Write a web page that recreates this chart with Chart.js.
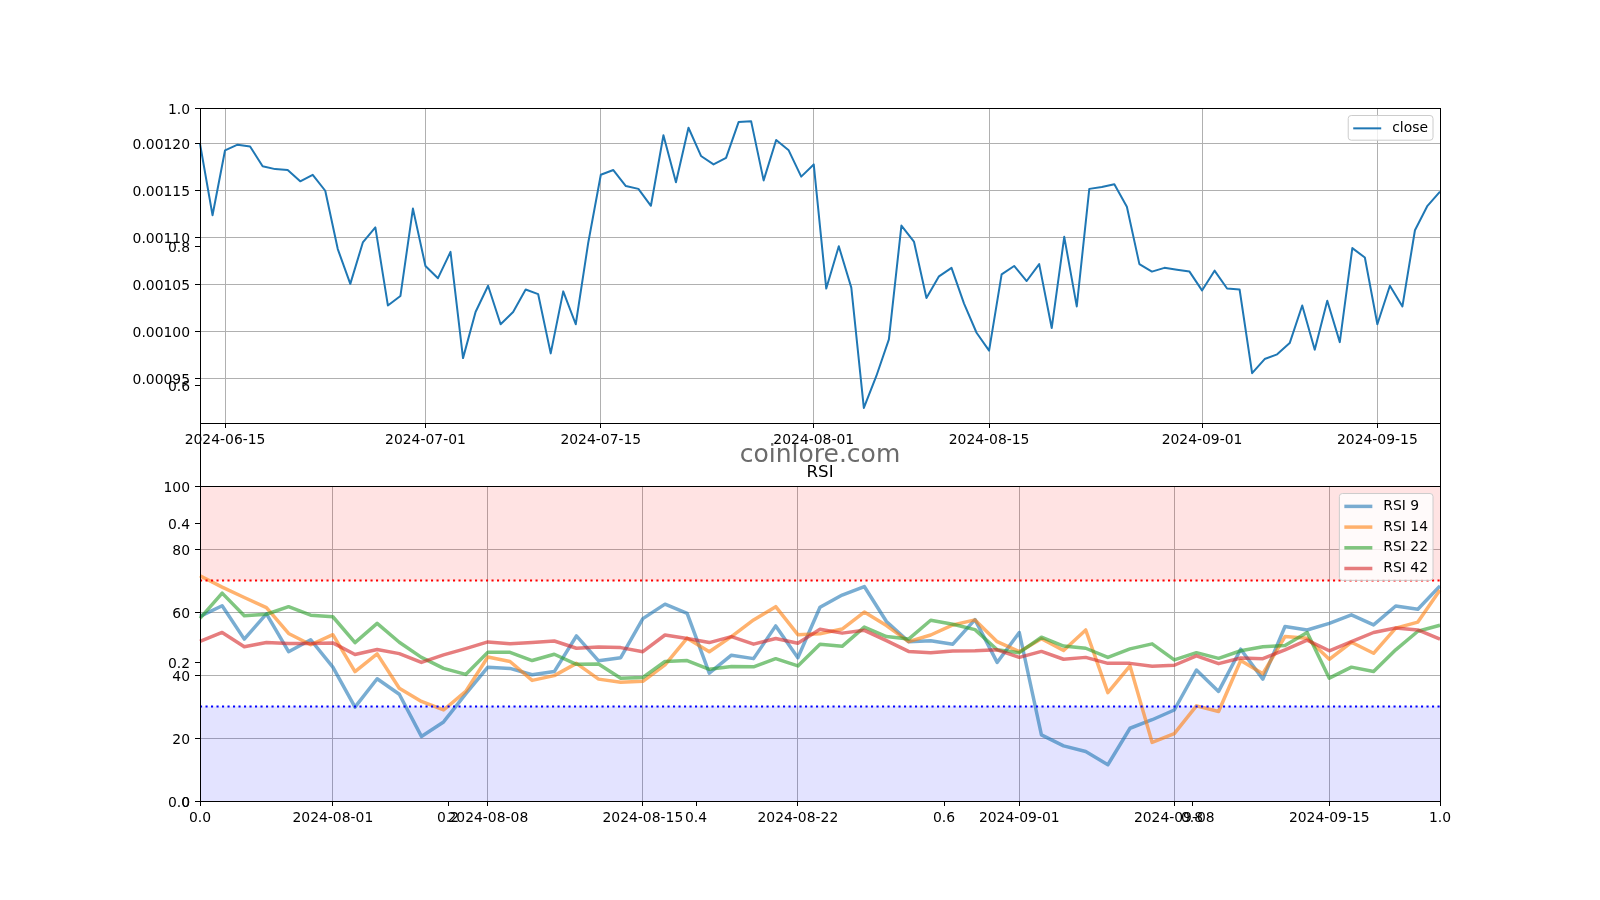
<!DOCTYPE html>
<html>
<head>
<meta charset="utf-8">
<title>close / RSI</title>
<script src="https://cdn.jsdelivr.net/npm/chart.js@4.4.1/dist/chart.umd.min.js"></script>
<style>
  body { margin: 0; background: #fff; }
  #figure { position: relative; width: 1600px; height: 900px; }
  #figure canvas { position: absolute; left: 0; top: 0; }
</style>
</head>
<body>
<div id="figure">
  <canvas id="frameChart" width="1600" height="900"></canvas>
  <canvas id="closeChart" width="1600" height="900"></canvas>
  <canvas id="rsiChart" width="1600" height="900"></canvas>
</div>
<script>
// daily close, starting 2024-06-13
const closeStart = "2024-06-13";
const closeValues = [
  0.001200, 0.001124, 0.001193, 0.001199, 0.001197, 0.001176, 0.001173, 0.001172, 0.001160, 0.001167,
  0.001150, 0.001088, 0.001051, 0.001095, 0.001111, 0.001028, 0.001038, 0.001131, 0.001070, 0.001057,
  0.001085, 0.000972, 0.001021, 0.001049, 0.001008, 0.001021, 0.001045, 0.001040, 0.000977, 0.001043,
  0.001008, 0.001095, 0.001167, 0.001172, 0.001155, 0.001152, 0.001134, 0.001209, 0.001159, 0.001217,
  0.001187, 0.001178, 0.001185, 0.001223, 0.001224, 0.001161, 0.001204, 0.001193, 0.001165, 0.001178,
  0.001046, 0.001091, 0.001047, 0.000919, 0.000953, 0.000992, 0.001113, 0.001096, 0.001036, 0.001059,
  0.001068, 0.001030, 0.000999, 0.000980, 0.001061, 0.001070, 0.001054, 0.001072, 0.001004, 0.001101,
  0.001027, 0.001152, 0.001154, 0.001157, 0.001133, 0.001072, 0.001064, 0.001068, 0.001066, 0.001064,
  0.001044, 0.001065, 0.001046, 0.001045, 0.000956, 0.000971, 0.000976, 0.000988, 0.001028, 0.000981,
  0.001033, 0.000989, 0.001089, 0.001079, 0.001008, 0.001049, 0.001027, 0.001108, 0.001134, 0.001149
];
const closeTickDates = ["2024-06-15", "2024-07-01", "2024-07-15", "2024-08-01", "2024-08-15", "2024-09-01", "2024-09-15"];
const closeTicks = [0.00095, 0.00100, 0.00105, 0.00110, 0.00115, 0.00120];
const closeMin = 0.000903;
const closeMax = 0.001238;

// RSI, starting 2024-07-26
const rsiStart = "2024-07-26";
const rsi9 = [
  58.6, 62.0, 51.4, 59.4, 47.4, 51.2, 42.5, 29.8, 38.8, 33.9, 20.5, 25.1, 34.0, 42.5, 42.1, 40.1,
  41.1, 52.4, 44.5, 45.5, 57.9, 62.5, 59.6, 40.6, 46.3, 45.2, 55.6, 45.5, 61.5, 65.4, 68.1, 57.0, 50.6, 50.9, 49.8, 57.6,
  44.0, 53.5, 21.0, 17.5, 15.7, 11.5, 23.1, 25.8, 28.9, 41.6, 34.8, 48.2, 38.7, 55.4, 54.3, 56.4, 59.1, 55.9, 61.9, 60.9, 68.3
];
const rsi14 = [
  71.5, 67.9, 64.6, 61.4, 53.2, 49.6, 52.8, 41.1, 46.7, 35.8, 31.6, 28.9, 34.8, 45.7, 44.3, 38.3,
  39.8, 43.7, 38.7, 37.7, 38.0, 43.2, 51.7, 47.4, 52.2, 57.5, 61.7, 52.8, 53.1, 54.6, 60.0, 55.7, 50.6, 52.7, 55.9, 57.5,
  50.6, 47.4, 51.5, 47.8, 54.3, 34.4, 42.9, 18.6, 21.4, 30.2, 28.4, 44.6, 40.4, 52.2, 51.7, 45.0, 50.4, 46.9, 54.9, 56.8, 67.0
];
const rsi22 = [
  58.0, 66.0, 58.8, 59.3, 61.7, 59.0, 58.5, 50.3, 56.4, 50.4, 45.6, 42.1, 40.2, 47.2, 47.2, 44.6,
  46.6, 43.4, 43.5, 39.0, 39.2, 44.3, 44.6, 41.8, 42.7, 42.6, 45.2, 42.9, 49.8, 49.1, 55.2, 52.2, 51.4, 57.4, 56.1, 54.4,
  48.0, 47.1, 52.0, 49.2, 48.5, 45.6, 48.3, 49.9, 44.8, 47.1, 45.3, 47.7, 49.0, 49.4, 53.5, 39.0, 42.5, 41.1, 48.0, 53.9, 55.8
];
const rsi42 = [
  50.7, 53.5, 49.0, 50.3, 50.0, 50.0, 50.2, 46.5, 48.1, 46.8, 44.0, 46.4, 48.4, 50.5, 49.9, 50.3,
  50.8, 48.5, 48.9, 48.7, 47.4, 52.7, 51.6, 50.3, 52.2, 49.8, 51.6, 50.1, 54.5, 53.3, 54.2, 50.9, 47.5, 47.1, 47.6, 47.7,
  48.0, 45.6, 47.5, 45.0, 45.6, 43.7, 43.7, 42.8, 43.1, 46.1, 43.6, 45.4, 45.2, 48.0, 51.1, 47.7, 50.6, 53.5, 54.9, 54.3, 51.4
];
const rsiTickDates = ["2024-08-01", "2024-08-08", "2024-08-15", "2024-08-22", "2024-09-01", "2024-09-08", "2024-09-15"];
const rsiTicks = [0, 20, 40, 60, 80, 100];
const rsiOverbought = 70;
const rsiOversold = 30;

// the empty 0..1 axes behind both panels
const frameTicks = [0.0, 0.2, 0.4, 0.6, 0.8, 1.0];

const FONT = "'DejaVu Sans', sans-serif";
const GRID = "#b0b0b0";
Chart.defaults.font.family = FONT;
Chart.defaults.font.size = 13.9;
Chart.defaults.color = "#000";

function dayLabels(start, n) {
  const t0 = Date.parse(start + "T00:00:00Z");
  const out = [];
  for (let i = 0; i < n; i++) {
    out.push(new Date(t0 + i * 86400000).toISOString().slice(0, 10));
  }
  return out;
}

// black box round the plot area, like the mpl spines
const framePlugin = {
  id: "axesFrame",
  afterDatasetsDraw(chart) {
    const a = chart.chartArea;
    const ctx = chart.ctx;
    ctx.save();
    ctx.strokeStyle = "#000";
    ctx.lineWidth = 1;
    ctx.strokeRect(Math.round(a.left) + 0.5, Math.round(a.top) + 0.5,
      Math.round(a.right - a.left), Math.round(a.bottom - a.top));
    ctx.restore();
  }
};

// legend box in the upper right corner of the plot area
const boxLegend = {
  id: "boxLegend",
  afterDraw(chart) {
    const items = chart.data.datasets.filter(d => d.showInLegend);
    if (!items.length) return;
    const ctx = chart.ctx;
    const area = chart.chartArea;
    ctx.save();
    ctx.font = "13.9px " + FONT;
    let textW = 0;
    items.forEach(d => { textW = Math.max(textW, ctx.measureText(d.label).width); });
    const rowH = 20.7;
    const w = 5 + 28 + 11 + textW + 5;
    const h = items.length * rowH + 4;
    const x = area.right - 7 - w;
    const y = area.top + 7.5;
    ctx.beginPath();
    ctx.roundRect(x, y, w, h, 3);
    ctx.fillStyle = "rgba(255,255,255,0.8)";
    ctx.fill();
    ctx.strokeStyle = "#cccccc";
    ctx.lineWidth = 1;
    ctx.stroke();
    items.forEach((d, i) => {
      const cy = y + 2.5 + rowH * (i + 0.5);
      ctx.beginPath();
      ctx.moveTo(x + 5, cy);
      ctx.lineTo(x + 33, cy);
      ctx.strokeStyle = d.borderColor;
      ctx.lineWidth = d.borderWidth;
      ctx.stroke();
      ctx.fillStyle = "#000";
      ctx.textAlign = "left";
      ctx.textBaseline = "middle";
      ctx.fillText(d.label, x + 44, cy);
    });
    ctx.restore();
  }
};

const watermark = {
  id: "watermark",
  afterDraw(chart) {
    const a = chart.chartArea;
    const ctx = chart.ctx;
    ctx.save();
    ctx.font = "25px " + FONT;
    ctx.fillStyle = "#6b6b6b";
    ctx.textAlign = "center";
    ctx.textBaseline = "alphabetic";
    ctx.fillText("coinlore.com", (a.left + a.right) / 2, 462);
    ctx.restore();
  }
};

function dateAxis(tickDates, drawGrid) {
  return {
    type: "category",
    grid: { display: true, drawOnChartArea: drawGrid, color: GRID, lineWidth: 1, tickColor: "#000", tickLength: 5 },
    border: { display: false },
    ticks: { autoSkip: false, maxRotation: 0, minRotation: 0, padding: 4 },
    afterBuildTicks: s => {
      const labels = s.getLabels();
      s.ticks = tickDates.map(d => ({ value: labels.indexOf(d) }));
    },
    afterFit: s => { s.height = 40; }
  };
}

function valueAxis(min, max, values, fmt, drawGrid, position) {
  const vertical = position !== "bottom";
  return {
    type: "linear",
    position: position,
    min: min,
    max: max,
    grid: { display: true, drawOnChartArea: drawGrid, color: GRID, lineWidth: 1, tickColor: "#000", tickLength: 5 },
    border: { display: false },
    ticks: { autoSkip: false, padding: vertical ? 5 : 4, labelOffset: vertical ? 2 : 0, callback: fmt },
    afterBuildTicks: s => { s.ticks = values.map(v => ({ value: v })); },
    afterFit: s => {
      if (vertical) s.width = 200;
      else s.height = 40;
    }
  };
}

function baseOptions(padding) {
  return {
    responsive: false,
    animation: false,
    events: [],
    devicePixelRatio: 1,
    layout: { padding: padding },
    elements: { point: { radius: 0 }, line: { tension: 0, borderJoinStyle: "round" } },
    plugins: { legend: { display: false }, tooltip: { enabled: false }, title: { display: false } }
  };
}

function createFrameChart(id) {
  const opts = baseOptions({ left: 0, top: 108, right: 160, bottom: 59 });
  opts.scales = {
    x: valueAxis(0, 1, frameTicks, v => v.toFixed(1), false, "bottom"),
    y: valueAxis(0, 1, frameTicks, v => v.toFixed(1), false, "left")
  };
  return new Chart(document.getElementById(id), {
    type: "line",
    data: { datasets: [] },
    options: opts,
    plugins: [framePlugin, watermark]
  });
}

function createCloseChart(id) {
  const opts = baseOptions({ left: 0, top: 108, right: 160, bottom: 437 });
  opts.scales = {
    x: dateAxis(closeTickDates, true),
    y: valueAxis(closeMin, closeMax, closeTicks, v => v.toFixed(5), true, "left")
  };
  return new Chart(document.getElementById(id), {
    type: "line",
    data: {
      labels: dayLabels(closeStart, closeValues.length),
      datasets: [{
        label: "close",
        data: closeValues,
        borderColor: "#1f77b4",
        borderWidth: 2,
        fill: false,
        showInLegend: true
      }]
    },
    options: opts,
    plugins: [framePlugin, boxLegend]
  });
}

function createRsiChart(id) {
  const n = rsi9.length;
  const opts = baseOptions({ left: 0, top: 462, right: 160, bottom: 59 });
  opts.plugins.title = {
    display: true,
    text: "RSI",
    fullSize: false,
    color: "#000",
    font: { size: 16.7, weight: "normal" },
    padding: { top: 1, bottom: 3 }
  };
  opts.scales = {
    x: dateAxis(rsiTickDates, true),
    y: valueAxis(0, 100, rsiTicks, v => String(v), true, "left")
  };
  const line = (label, data, color, order) => ({
    label: label, data: data, borderColor: color, borderWidth: 3.5,
    fill: false, order: order, showInLegend: true
  });
  const level = (value, color) => ({
    label: "level " + value, data: new Array(n).fill(value), borderColor: color,
    borderWidth: 2.1, borderDash: [2.1, 3.4], fill: false, order: 0
  });
  const band = (from, to, color) => ({
    label: "band " + from, data: new Array(n).fill(to), borderColor: "rgba(0,0,0,0)",
    borderWidth: 0, backgroundColor: color, fill: { value: from }, order: 10
  });
  return new Chart(document.getElementById(id), {
    type: "line",
    data: {
      labels: dayLabels(rsiStart, n),
      datasets: [
        line("RSI 9", rsi9, "rgba(31,119,180,0.6)", 4),
        line("RSI 14", rsi14, "rgba(255,127,14,0.6)", 3),
        line("RSI 22", rsi22, "rgba(44,160,44,0.6)", 2),
        line("RSI 42", rsi42, "rgba(214,39,40,0.6)", 1),
        level(rsiOverbought, "#ff0000"),
        level(rsiOversold, "#0000ff"),
        band(rsiOverbought, 100, "rgba(255,0,0,0.11)"),
        band(0, rsiOversold, "rgba(0,0,255,0.11)")
      ]
    },
    options: opts,
    plugins: [framePlugin, boxLegend]
  });
}

createFrameChart("frameChart");
createCloseChart("closeChart");
createRsiChart("rsiChart");
</script>
</body>
</html>
